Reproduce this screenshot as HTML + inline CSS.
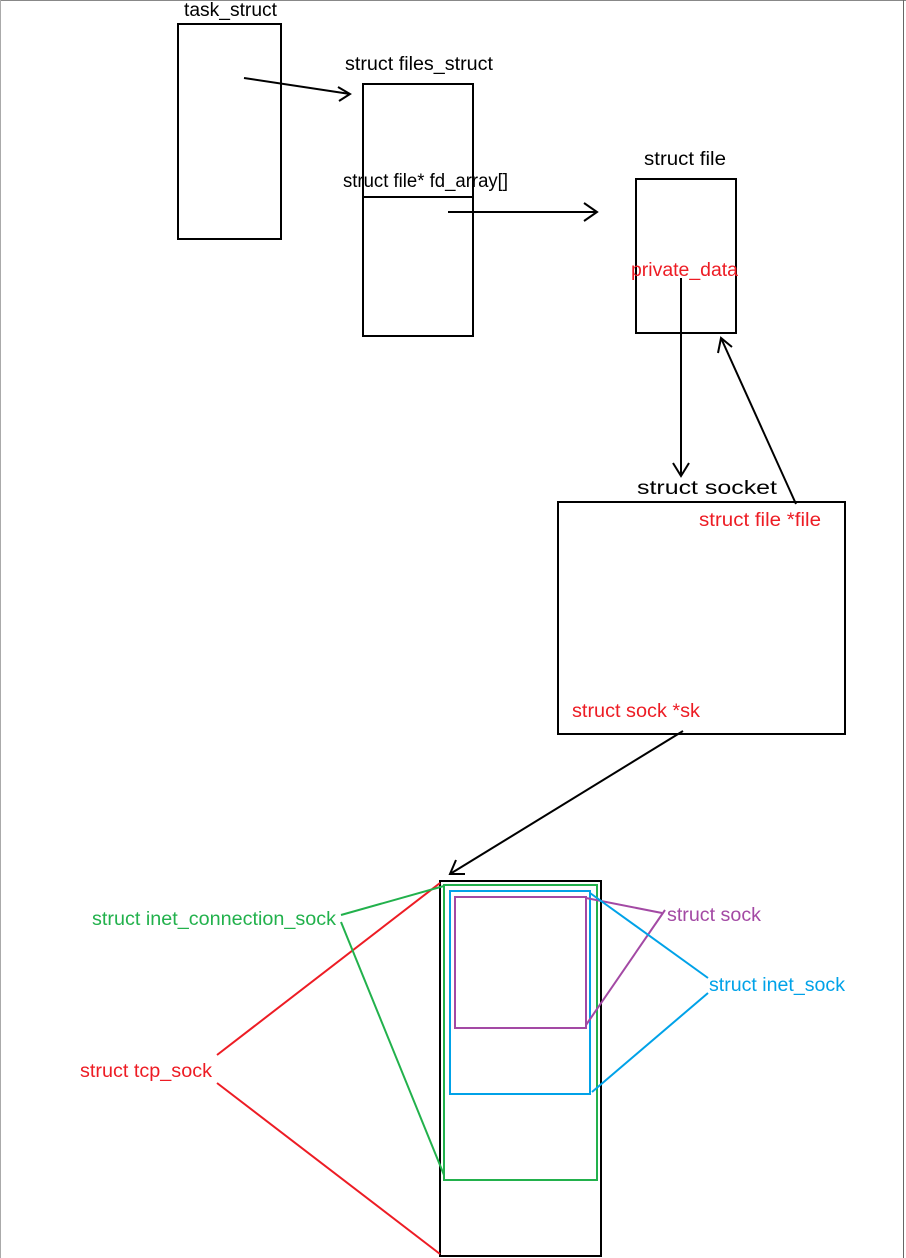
<!DOCTYPE html>
<html><head><style>body{margin:0;background:#fff}svg{display:block}text{font-family:"Liberation Sans",sans-serif;font-size:19px}</style></head><body>
<svg width="906" height="1258" xmlns="http://www.w3.org/2000/svg">
<line x1="0" y1="0.5" x2="906" y2="0.5" stroke="#888"/>
<line x1="0.5" y1="0" x2="0.5" y2="1258" stroke="#aaa"/>
<line x1="903.5" y1="0" x2="903.5" y2="1258" stroke="#666"/>
<g fill="none" stroke="#000" stroke-width="2">
<rect x="178" y="24" width="103" height="215"/>
<rect x="363" y="84" width="110" height="252"/>
<line x1="363" y1="197" x2="473" y2="197"/>
<rect x="636" y="179" width="100" height="154"/>
<rect x="558" y="502" width="287" height="232"/>
<rect x="440" y="881" width="161" height="375"/>
<polyline points="244,78 350,94"/><polyline points="338,87 350,94 339,101"/>
<polyline points="448,212 597,212"/><polyline points="584,203 597,212 584,221"/>
<polyline points="681,278 681,476"/><polyline points="673,463 681,476 689,463"/>
<polyline points="796,504 721,338"/><polyline points="718,353 721,338 732,347"/>
<polyline points="683,731 450,874"/><polyline points="456,860 450,874 465,874"/>
</g>
<g fill="none" stroke-width="2">
<rect x="444" y="885" width="153" height="295" stroke="#22b14c"/>
<rect x="450" y="891" width="140" height="203" stroke="#00a2e8"/>
<rect x="455" y="897" width="131" height="131" stroke="#a349a4"/>
<polyline points="217,1055 440,883" stroke="#ed1c24"/>
<polyline points="217,1083 440,1254" stroke="#ed1c24"/>
<polyline points="341,915 444,886" stroke="#22b14c"/>
<polyline points="341,922 444,1175" stroke="#22b14c"/>
<polyline points="586,898 662,913" stroke="#a349a4"/>
<polyline points="586,1025 665,910" stroke="#a349a4"/>
<polyline points="590,893 708,978" stroke="#00a2e8"/>
<polyline points="592,1092 708,993" stroke="#00a2e8"/>
</g>
<g lengthAdjust="spacingAndGlyphs">
<text x="184" y="16" textLength="93" lengthAdjust="spacingAndGlyphs">task_struct</text>
<text x="345" y="70" textLength="148" lengthAdjust="spacingAndGlyphs">struct files_struct</text>
<text x="343" y="187" textLength="165" lengthAdjust="spacingAndGlyphs">struct file* fd_array[]</text>
<text x="644" y="165" textLength="82" lengthAdjust="spacingAndGlyphs">struct file</text>
<text x="631" y="276" fill="#ed1c24" textLength="107" lengthAdjust="spacingAndGlyphs">private_data</text>
<text x="637" y="494" textLength="140" lengthAdjust="spacingAndGlyphs">struct socket</text>
<text x="699" y="526" fill="#ed1c24" textLength="122" lengthAdjust="spacingAndGlyphs">struct file *file</text>
<text x="572" y="717" fill="#ed1c24" textLength="128" lengthAdjust="spacingAndGlyphs">struct sock *sk</text>
<text x="92" y="925" fill="#22b14c" textLength="244" lengthAdjust="spacingAndGlyphs">struct inet_connection_sock</text>
<text x="80" y="1077" fill="#ed1c24" textLength="132" lengthAdjust="spacingAndGlyphs">struct tcp_sock</text>
<text x="667" y="921" fill="#a349a4" textLength="94" lengthAdjust="spacingAndGlyphs">struct sock</text>
<text x="709" y="991" fill="#00a2e8" textLength="136" lengthAdjust="spacingAndGlyphs">struct inet_sock</text>
</g>
</svg>
</body></html>
